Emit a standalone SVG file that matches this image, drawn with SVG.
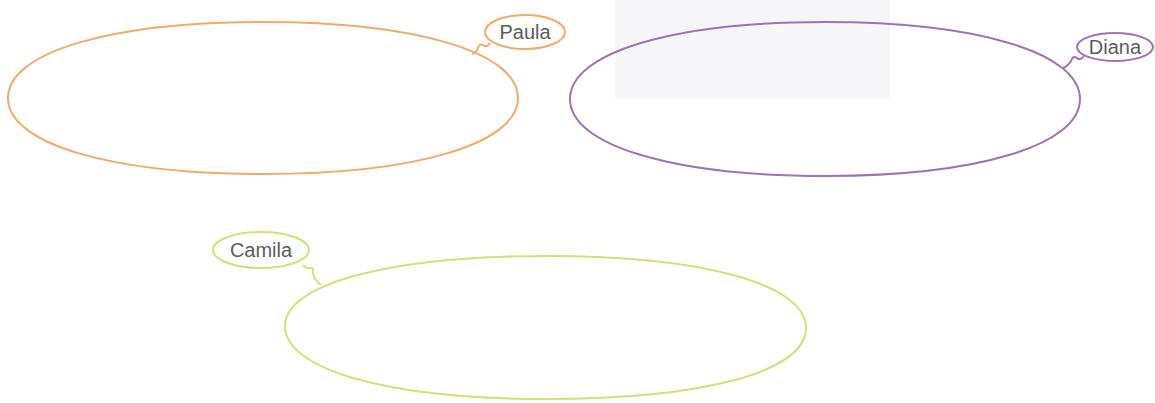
<svg xmlns="http://www.w3.org/2000/svg" width="1155" height="403" viewBox="0 0 1155 403">
<style>
.lbl{font-family:"Liberation Sans","DejaVu Sans",sans-serif;font-size:20px;fill:#5c5c5c;text-anchor:middle}
.o{stroke:#f2aa66}.p{stroke:#9b74b8}.g{stroke:#cde37a}
ellipse,path{fill:none;stroke-width:2}
</style>
<rect width="1155" height="403" fill="#ffffff"/>
<rect x="615" y="0" width="275" height="98" fill="#f6f6f9"/>
<g id="paula">
<path class="o" d="M8 98 C8 52.4 110 22 263 22 C416 22 518 52.4 518 98 C518 143.6 416 174 263 174 C110 174 8 143.6 8 98 Z"/>
<ellipse class="o" cx="525" cy="32" rx="40" ry="17"/>
<text class="lbl" x="525" y="39">Paula</text>
</g>
<g id="diana">
<path class="p" d="M570 99 C570 52.8 672 22 825 22 C978 22 1080 52.8 1080 99 C1080 145.2 978 176 825 176 C672 176 570 145.2 570 99 Z"/>
<ellipse class="p" cx="1115" cy="47" rx="38" ry="14"/>
<text class="lbl" x="1115" y="54">Diana</text>
</g>
<g id="camila">
<path class="g" d="M285 326 C285 284 389.4 256 546 256 C702.6 256 806 284 806 328 C806 372 702.6 399 546 399 C389.4 399 285 370 285 326 Z"/>
<ellipse class="g" cx="261" cy="250" rx="48" ry="18"/>
<text class="lbl" x="261" y="257">Camila</text>
</g>
<g id="connectors">
<path class="o" d="M490 43 Q487 48 483 45 Q479 43 478 48 Q477 52 472 54"/>
<path class="p" d="M1084 56 Q1080 61 1077 58 Q1073 55 1071 61 Q1068 66 1063 68"/>
<path class="g" d="M303 265 Q306 269 310 268 Q314 267 313 273 Q314 280 321 285"/>
</g>
</svg>
